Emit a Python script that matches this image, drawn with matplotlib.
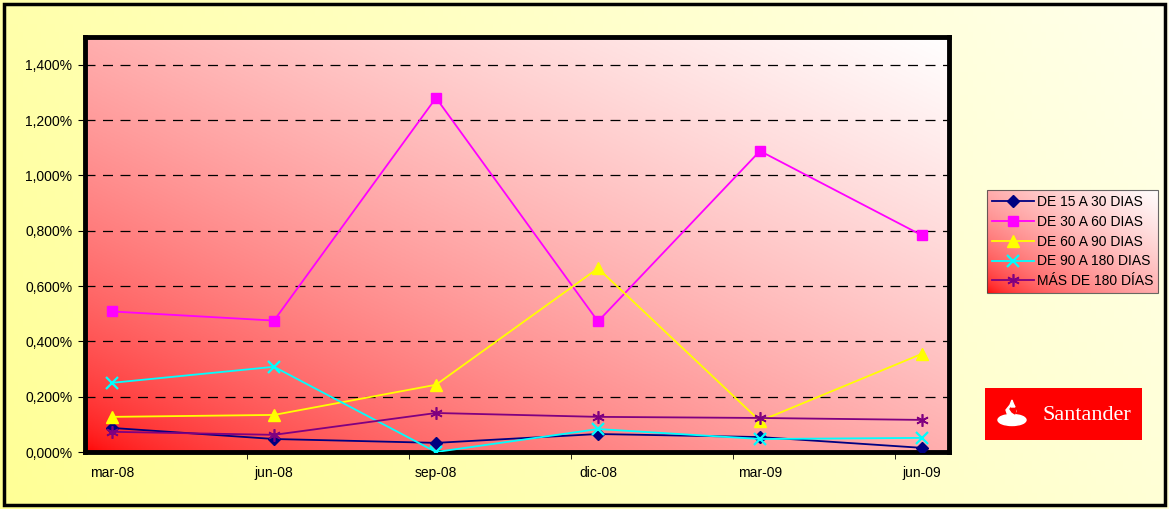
import matplotlib
matplotlib.use('Agg')

import matplotlib.pyplot as plt
import numpy as np
from matplotlib.patches import Rectangle, Ellipse, Polygon
from matplotlib.ticker import FuncFormatter, FixedLocator

plt.rcParams['font.family'] = ['Liberation Sans', 'DejaVu Sans']
plt.rcParams['font.size'] = 10

# quarters, month offset from mar-08
periods = ['mar-08', 'jun-08', 'sep-08', 'dic-08', 'mar-09', 'jun-09']
months = [0, 3, 6, 9, 12, 15]

de15a30 = [0.087, 0.047, 0.033, 0.065, 0.054, 0.015]
de30a60 = [0.508, 0.475, 1.280, 0.472, 1.088, 0.783]
de60a90 = [0.127, 0.134, 0.243, 0.664, 0.112, 0.355]
de90a180 = [0.250, 0.308, 0.000, 0.083, 0.047, 0.051]
mas180 = [0.073, 0.062, 0.141, 0.127, 0.123, 0.116]

series = [
    ('DE 15 A 30 DIAS', de15a30, '#000080', 'D', 6, 1.0),
    ('DE 30 A 60 DIAS', de30a60, '#FF00FF', 's', 7, 1.0),
    ('DE 60 A 90 DIAS', de60a90, '#FFFF00', '^', 8, 1.0),
    ('DE 90 A 180 DIAS', de90a180, '#00FFFF', 'x', 8, 1.6),
    ('MÁS DE 180 DÍAS', mas180, '#800080', (6, 2, 0), 9, 1.2),
]

W, H = 1169, 509
fig = plt.figure(figsize=(W / 100, H / 100), dpi=100)

# figure background: pale yellow gradient with black frame
bg = fig.add_axes([0, 0, 1, 1], zorder=-10)
gx = np.linspace(0, 1, 256)
gy = np.linspace(0, 1, 64)
GX, GY = np.meshgrid(gx, gy)
t = np.clip(0.75 * GX + 0.25 * GY, 0, 1)
img = np.zeros(GX.shape + (3,))
img[..., 0] = 1.0
img[..., 1] = 1.0
img[..., 2] = (150 + 85 * t) / 255
bg.imshow(img, extent=[0, 1, 0, 1], origin='lower', aspect='auto')
bg.add_patch(Rectangle((4 / W, 4 / H), 1 - 8 / W, 1 - 8 / H, fill=False,
                       lw=2.5, ec='black', transform=bg.transAxes))
bg.set_xlim(0, 1)
bg.set_ylim(0, 1)
bg.axis('off')


def red_gradient(ax):
    x = np.linspace(0, 1, 200)
    y = np.linspace(0, 1, 200)
    X, Y = np.meshgrid(x, y)
    s = np.clip((X + Y) / 2.0, 0, 1) ** 0.55
    g = np.zeros(X.shape + (3,))
    g[..., 0] = 1.0
    g[..., 1] = s
    g[..., 2] = s
    ax.imshow(g, extent=[0, 1, 0, 1], origin='lower', aspect='auto',
              transform=ax.transAxes, zorder=0)


ax = fig.add_axes([85 / W, 1 - 452 / H, (949 - 85) / W, (452 - 37) / H])
red_gradient(ax)

for label, vals, color, marker, ms, mew in series:
    ax.plot(months, vals, color=color, lw=1.3, marker=marker, ms=ms,
            mec=color, mfc=color, mew=mew, label=label, zorder=3)

ax.set_xlim(-0.5, 15.5)
ax.set_ylim(0, 1.5)
ax.set_xticks(months)
ax.set_xticklabels(periods)
ax.xaxis.set_minor_locator(FixedLocator([2.5, 5.5, 8.5, 11.5, 14.5]))
ax.tick_params(axis='x', which='major', length=0, pad=10)
ax.tick_params(axis='x', which='minor', length=5, direction='out')
ax.set_yticks(np.arange(0, 1.41, 0.2))
ax.yaxis.set_major_formatter(FuncFormatter(lambda v, p: f'{v:.3f}%'.replace('.', ',')))
ax.tick_params(axis='y', length=5, direction='out', pad=4)
ax.grid(axis='y', color='black', linestyle=(0, (8, 6)), lw=0.9, zorder=1)
ax.set_axisbelow(False)
for sp in ax.spines.values():
    sp.set_linewidth(3.5)

leg = fig.legend(loc='upper left', bbox_to_anchor=(987 / W, 1 - 190 / H),
                 frameon=True, fancybox=False, edgecolor='#444444',
                 fontsize=10, handlelength=3.0, handletextpad=0.25,
                 borderpad=0.35, labelspacing=0.42, borderaxespad=0)
leg.get_frame().set_linewidth(0.8)
leg.get_frame().set_facecolor('none')

fig.canvas.draw()
bb = leg.get_window_extent().transformed(fig.transFigure.inverted())
lax = fig.add_axes([bb.x0, bb.y0, bb.width, bb.height], zorder=-5)
red_gradient(lax)
lax.axis('off')

# Santander logo box
logo = fig.add_axes([985 / W, 1 - 440 / H, (1142 - 985) / W, (440 - 388) / H])
logo.set_xlim(0, 157)
logo.set_ylim(0, 52)
logo.add_patch(Rectangle((0, 0), 157, 52, color='#FF0000'))
logo.add_patch(Ellipse((27, 20), 28, 11, color='white'))
logo.add_patch(Polygon([[23, 24], [21, 30], [25, 35], [27, 40], [29, 34],
                        [31, 29], [29, 24]], closed=True, color='white'))
logo.add_patch(Polygon([[25, 31], [27, 28], [30, 26], [31, 31], [29, 36]],
                       closed=True, color='#FF0000'))
logo.add_patch(Polygon([[26, 33], [30, 33], [28, 37]], closed=True, color='white'))
logo.text(58, 24, 'Santander', color='white', fontsize=16,
          family=['Liberation Serif', 'DejaVu Serif'], va='center', ha='left')
logo.axis('off')

fig.savefig('out.png', dpi=100)
